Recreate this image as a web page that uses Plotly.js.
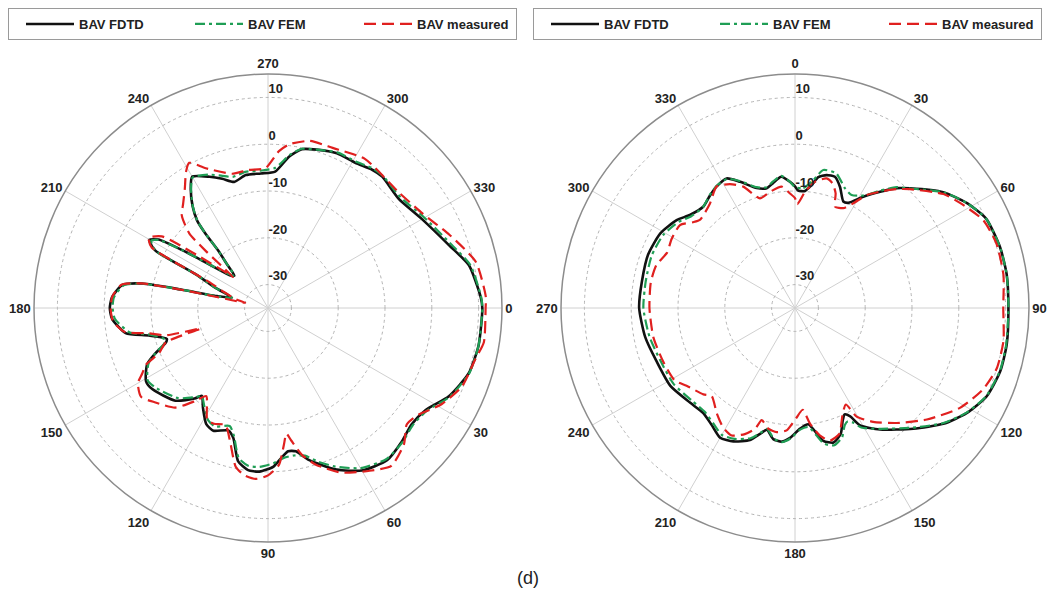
<!DOCTYPE html>
<html><head><meta charset="utf-8">
<script src="https://cdn.plot.ly/plotly-3.0.1.min.js"></script>
<style>html,body{margin:0;padding:0;background:#fff}#chart{width:1055px;height:597px}</style>
</head><body><div id="chart"></div>
<script>
const angleTicks = [0,30,60,90,120,150,180,210,240,270,300,330];
const radialTicks = [-30,-20,-10,0,10];
const seriesNames = ['BAV FDTD','BAV FEM','BAV measured'];
const caption = '(d)';

// Left pattern (0 deg at right, clockwise)
const leftFdtdTheta = [0,10,18,26,33,39,45,52,60,67,75,79,82,85,88,93,97,101,105,108,114,118,123,127,129,135,145,149,155,158,161,163,167,170,176,180,184,189,191,192,193,196,201,205,207,209,210,212,214,215.5,221,224,227,229,230,231,233.5,237,240,246,250.5,255,260.5,267,273,278,282,287,294,301,307,311,320,330,341,348,357,360];
const leftFdtdDb    = [10.8,10.7,10.1,8.0,5.1,4.5,5.4,6.3,5.1,2.5,-1.4,-3.8,-4.1,-2.8,-1.1,0.0,-0.1,-1.6,-6.3,-7.5,-6.3,-6.9,-9.5,-11.5,-10.1,-7.0,-4.8,-4.6,-6.5,-9.0,-11.8,-12.4,-8.9,-4.1,-1.6,-1.2,-1.6,-3.5,-7.6,-16,-23.5,-27,-23,-18,-8,-6.2,-5.8,-7.4,-12.8,-17,-24.4,-25,-22,-19,-14,-10.9,-7.9,-4.7,-2.6,-4.3,-5.7,-7.1,-6.2,-6.2,-5.8,-2.3,-0.3,0.4,1.2,1.2,2.0,2.2,1.4,3.0,6.0,8.9,10.5,10.8];

const leftFemTheta = [0,10,18,26,33,39,45,52,60,67,72,76,80,84,88,93,97,101,105,108,114,118,123,127,129,135,145,149,155,158,161,163,167,170,176,180,184,189,191,192,193,196,201,205,207,209,210,212,214,215.5,221,224,227,229,230,231,233.5,237,240,246,250.5,255,260.5,267,273,278,282,287,294,301,307,311,320,330,341,348,357,360];
const leftFemDb    = [10.8,10.7,10.2,8.2,5.4,4.8,5.6,6.0,4.5,1.8,-0.5,-2.5,-3.0,-2.8,-1.8,-1.0,-1.0,-2.3,-6.8,-8.5,-7.3,-7.8,-10,-11.5,-10.5,-7.8,-5.5,-5.0,-6.8,-9.0,-11.5,-12,-9.5,-5.0,-2.2,-1.8,-2.0,-3.8,-7.8,-16,-24,-27,-23,-18,-8,-6.6,-6.2,-7.6,-13,-17,-24,-25,-22,-19,-14,-11,-8,-4.8,-2.8,-3.8,-5.0,-6.0,-5.5,-5.6,-5.0,-2.0,-0.2,0.4,1.4,1.5,2.3,2.4,1.9,3.6,6.5,9.2,10.6,10.8];

const leftMeasTheta = [0,9,14,22,29,36,40,45,52,58,66,73,77,80,81.7,83.3,86,90,94,98,101.5,106,110,115,118.5,125,128,133,140,145,150,152.5,155,157.5,161.5,163,165,168,170.5,175,179,184,189,191,192,193,195,200,204,206,207.5,210.5,214,215.5,217,220,221.5,222.5,223.5,227,231,235,239,241.5,246,255,262,269,274,277.5,284,292,303,318.5,328.5,338,347.5,357,360];
const leftMeasDb    = [11.5,11.7,10.6,9.7,7.4,4.2,3.7,6.1,7.8,6.0,3.5,0.0,-2.8,-6.2,-7.9,-5.7,-1.4,0.75,1.6,1.1,-0.4,-5.5,-8.4,-7.7,-7.8,-12,-9.8,-5.9,-3.6,-1.9,-2.9,-4.7,-6.2,-9.8,-12,-20,-12.5,-9,-4,-1.8,-1.4,-1.6,-3.3,-7.5,-17,-30,-28,-25,-21,-14,-7,-5.4,-7.6,-12,-17,-23,-25,-17,-11.8,-8,-6.2,-4,-1,0.3,-2.3,-5.3,-5.2,-5.1,-1.4,0.3,1.8,1.9,3.0,2.3,3.7,6.8,10.5,11.6,11.5];

// Right pattern (0 deg at top, clockwise)
const rightFdtdTheta = [0,1.6,4.9,7.7,10.1,13.4,16.9,20.4,24.4,26.9,31.5,36.2,40.3,43.9,52,58.5,65,73.5,81,90,99.7,107,114.7,121.5,128,135.6,145,151,153,155,157,160,164,168,173.5,177.6,182,185.7,189.4,193,195.5,198.8,204.8,210,215.4,221,228,238,249,259,270,280,290,299,306.6,311.5,317.8,322.8,327.2,332.2,336.5,342.3,346.7,350,354,357.7,360];
const rightFdtdDb    = [-9.0,-9.9,-9.9,-8.5,-6.6,-5.8,-5.7,-7.4,-10.0,-9.8,-7.1,-4.2,-1.4,0.5,5.2,8.0,10.1,10.7,10.8,10.6,10.9,10.9,10.1,8.0,5.2,1.1,-3.3,-6.3,-9.0,-9.9,-8.9,-6.4,-5.1,-6.0,-10,-9.2,-7.3,-6.3,-6.6,-8.3,-7.1,-5.2,-3.6,-3.0,-4.3,-5.2,-4.8,-3.6,-3.3,-2.4,-1.7,-1.8,-1.6,-2.1,-3.5,-5.0,-5.8,-4.9,-4.1,-3.7,-5.6,-8.1,-8.7,-7.9,-6.8,-8.0,-9.0];

const rightFemTheta = [0,4,8,11.6,17,22.7,26.6,31.5,36,40,44,52,58.5,65,73.5,81,90,99.7,107,114.7,121.5,128,135.6,145,151,153,155,157,160,164,168,173.5,177.6,182,185.7,189.4,193,195.5,198.8,204.8,210,215.4,221,228,238,249,259,270,280,290,299,306.6,311.5,317.8,322.8,327.2,332.2,336.5,342.3,346.7,350,354,357.7,360];
const rightFemDb    = [-9.2,-9.3,-7.5,-4.9,-4.9,-7.3,-8.0,-6.8,-4.0,-1.3,0.5,5.2,8.0,10.1,10.7,10.8,10.6,10.8,10.8,10.0,7.9,5.0,0.8,-3.5,-5.8,-7.5,-8.3,-7.8,-5.6,-4.5,-5.4,-9.4,-9.0,-7.1,-6.2,-6.8,-8.5,-7.3,-5.6,-4.2,-3.7,-4.8,-5.6,-5.4,-4.4,-4.1,-3.3,-2.6,-2.6,-2.4,-2.8,-4.1,-5.4,-5.8,-4.8,-4.0,-3.8,-5.4,-7.9,-8.5,-7.6,-6.6,-8.0,-9.2];

const rightMeasTheta = [0,1.3,4.9,9,13.7,16.8,19.5,21.5,25.8,29.1,32.4,36.5,40.5,44,52.5,57.5,65,72.4,81,90,99,106.7,113.3,121.2,130.2,138.5,145.5,150.4,152.2,155.6,160.6,165.2,168.9,172.6,175.7,179.5,183.9,188.4,192.5,196.5,198.3,201.7,206.4,211,216.7,223.4,226.7,234.4,238.9,247.9,258.3,270,280.2,287.3,293.3,299.2,305.8,310,313,320.9,327.2,332.3,336.9,342.3,347.9,353.7,357.5,360];
const rightMeasDb    = [-11.5,-12.8,-10.1,-7.7,-6.5,-7.2,-9.0,-11.7,-11.3,-9.4,-6.4,-4.0,-1.6,0.3,5.0,6.8,9.4,10.2,10.1,9.5,10.1,10.0,8.8,6.2,1.9,-2.2,-5.5,-8.3,-11.7,-10.3,-6.5,-5.7,-7.2,-10.1,-13.2,-11.4,-8.8,-8.2,-8.6,-10,-7.8,-6,-4.6,-5.2,-7,-9.1,-8.1,-6.5,-5.0,-4.6,-4.1,-3.9,-3.7,-4.0,-5.2,-4.8,-4.7,-6.5,-7.3,-6.2,-4.1,-5.1,-6.8,-10.4,-9.6,-8.9,-10.5,-11.5];

const FONT = 'Liberation Sans, Arial, sans-serif';
const styles = [
  {color:'#111111', width:2.6, dash:'solid'},
  {color:'#1f9e55', width:2.2, dash:'10px,4px,3px,4px'},
  {color:'#e0201f', width:2.2, dash:'12px,6px'}
];

function tr(theta, r, idx, subplot, legend){
  return {type:'scatterpolar', mode:'lines', theta:theta, r:r, name:seriesNames[idx],
    subplot:subplot, legend:legend, showlegend:true,
    line:{color:styles[idx].color, width:styles[idx].width, dash:styles[idx].dash, shape:'spline', smoothing:0.6},
    hoverinfo:'skip'};
}

const data = [
  tr(leftFdtdTheta, leftFdtdDb, 0, 'polar', 'legend'),
  tr(leftFemTheta, leftFemDb, 1, 'polar', 'legend'),
  tr(leftMeasTheta, leftMeasDb, 2, 'polar', 'legend'),
  tr(rightFdtdTheta, rightFdtdDb, 0, 'polar2', 'legend2'),
  tr(rightFemTheta, rightFemDb, 1, 'polar2', 'legend2'),
  tr(rightMeasTheta, rightMeasDb, 2, 'polar2', 'legend2')
];

function polarCfg(domainX, rotation){
  return {
    domain:{x:domainX, y:[0.0921,0.8760]},
    bgcolor:'rgba(0,0,0,0)',
    radialaxis:{range:[-35,15], tickmode:'array', tickvals:radialTicks,
      ticktext:radialTicks.map(v => String(v) + '<br>&nbsp;'),
      angle:90, tickangle:90, side:'clockwise', showline:false, ticks:'', gridcolor:'#b4b4b4', griddash:'dot', gridwidth:1,
      tickfont:{family:FONT, size:13, color:'#222', weight:'bold'}},
    angularaxis:{rotation:rotation, direction:'clockwise', tickmode:'array', tickvals:angleTicks,
      ticktext:angleTicks.map(String), showgrid:true, gridcolor:'#d0d0d0', gridwidth:1,
      showline:true, linecolor:'#8c8c8c', linewidth:1.5, ticks:'',
      tickfont:{family:FONT, size:13, color:'#222', weight:'bold'}}
  };
}

function legendCfg(x0){
  return {x:x0, y:1-8/597, xanchor:'left', yanchor:'top', orientation:'h',
    bgcolor:'#ffffff', bordercolor:'#9a9a9a', borderwidth:1, indentation:12,
    font:{family:FONT, size:13, color:'#222', weight:'bold'},
    entrywidth:94, entrywidthmode:'pixels', itemwidth:48, traceorder:'normal'};
}

const layout = {
  width:1055, height:597, margin:{l:0,r:0,t:0,b:0, autoexpand:false},
  paper_bgcolor:'#ffffff', plot_bgcolor:'#ffffff',
  font:{family:FONT},
  polar: polarCfg([34/1055, 502/1055], 0),
  polar2: polarCfg([561/1055, 1029/1055], 90),
  legend: legendCfg(8/1055),
  legend2: legendCfg(533/1055),
  annotations:[{text:caption, xref:'paper', yref:'paper', x:0.5, y:(597-578)/597, xanchor:'center', yanchor:'middle', showarrow:false, font:{family:FONT, size:18, color:'#222'}}]
};

Plotly.newPlot('chart', data, layout, {displayModeBar:false, staticPlot:true});
</script></body></html>
